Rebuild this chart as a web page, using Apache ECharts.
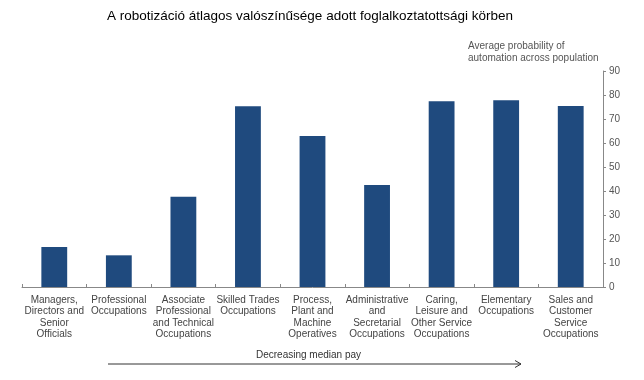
<!DOCTYPE html>
<html>
<head>
<meta charset="utf-8">
<script src="https://cdn.jsdelivr.net/npm/echarts@6/dist/echarts.min.js"></script>
<style>html,body{margin:0;padding:0;background:#fff;}#c{width:644px;height:380px;}</style>
</head>
<body>
<div id="c"></div>
<script>
var categories = [
  "Managers,\nDirectors and\nSenior\nOfficials",
  "Professional\nOccupations",
  "Associate\nProfessional\nand Technical\nOccupations",
  "Skilled Trades\nOccupations",
  "Process,\nPlant and\nMachine\nOperatives",
  "Administrative\nand\nSecretarial\nOccupations",
  "Caring,\nLeisure and\nOther Service\nOccupations",
  "Elementary\nOccupations",
  "Sales and\nCustomer\nService\nOccupations"
];
var values = [16.7, 13.2, 37.6, 75.3, 62.9, 42.5, 77.4, 77.8, 75.4];
var yTicks = [0, 10, 20, 30, 40, 50, 60, 70, 80, 90];
var titleText = "A robotizáció átlagos valószínűsége adott foglalkoztatottsági körben";
var axisTitle = "Average probability of\nautomation across population";
var arrowText = "Decreasing median pay";

var chart = echarts.init(document.getElementById('c'), null, {renderer: 'canvas'});
var font = "'Liberation Sans', Arial, sans-serif";
chart.setOption({
  backgroundColor: '#ffffff',
  animation: false,
  title: {
    text: titleText, left: 102, top: 4,
    textStyle: {fontFamily: font, fontSize: 13.5, fontWeight: 'normal', color: '#000'}
  },
  grid: {left: 22, right: 41, top: 71, bottom: 93},
  xAxis: {
    type: 'category', data: categories,
    axisLine: {lineStyle: {color: '#888', width: 1}},
    axisTick: {show: true, inside: true, length: 3, lineStyle: {color: '#888'}},
    axisLabel: {interval: 0, fontFamily: font, fontSize: 10, color: '#444', lineHeight: 11.5, margin: 7, align: 'center'}
  },
  yAxis: {
    type: 'value', position: 'right', min: 0, max: 90, interval: 10,
    axisLine: {show: true, lineStyle: {color: '#888'}},
    axisTick: {show: true, inside: false, length: 3, lineStyle: {color: '#888'}},
    splitLine: {show: false},
    axisLabel: {fontFamily: font, fontSize: 10, color: '#555', margin: 6,
      customValues: yTicks}
  },
  series: [{
    type: 'bar', data: values, barWidth: '40%',
    itemStyle: {color: '#1F4A7E'}
  }],
  graphic: [
    {type: 'text', left: 468, top: 40,
     style: {text: axisTitle, fontFamily: font, fontSize: 10, fill: '#555', lineHeight: 12}},
    {type: 'text', left: 256, top: 350,
     style: {text: arrowText, fontFamily: font, fontSize: 10, fill: '#333'}},
    {type: 'line', shape: {x1: 108, y1: 364, x2: 521, y2: 364}, style: {stroke: '#333', lineWidth: 1}},
    {type: 'polyline', shape: {points: [[515, 360.5], [521, 364], [515, 367.5]]}, style: {stroke: '#333', lineWidth: 1, fill: null}}
  ]
});
</script>
</body>
</html>
